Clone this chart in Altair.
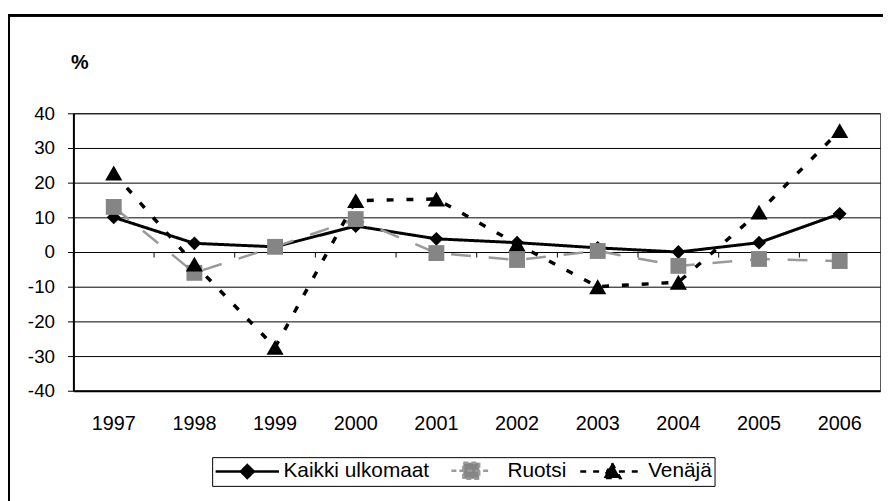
import altair as alt
import pandas as pd

years = ['1997', '1998', '1999', '2000', '2001', '2002', '2003', '2004', '2005', '2006']
series_names = ['Kaikki ulkomaat', 'Ruotsi', 'Venäjä']
kaikki = [10, 2.5, 1.5, 7.5, 3.8, 2.7, 1.2, 0, 2.7, 11]
ruotsi = [13, -6, 1.5, 9.5, -0.3, -2.3, 0.3, -4, -2, -2.6]
venaja = [22.8, -3.5, -27.5, 14.8, 15.3, 2.3, -10, -8.7, 11.5, 35]
y_ticks = [-40, -30, -20, -10, 0, 10, 20, 30, 40]

rows = []
for name, vals in zip(series_names, [kaikki, ruotsi, venaja]):
    for yr, v in zip(years, vals):
        rows.append({'year': yr, 'value': v, 'series': name})
df = pd.DataFrame(rows)
ydf = pd.DataFrame({'year': years})

FONT = 'Liberation Sans'

x_scale = alt.Scale(type='band', paddingInner=0, paddingOuter=0)
x_axis = alt.Axis(title=None, labelAngle=0, ticks=False, grid=False,
                  domainColor='black', domainWidth=2,
                  labelFont=FONT, labelFontSize=20, labelColor='black',
                  labelPadding=23)
y_scale = alt.Scale(domain=[-40, 40], nice=False)
y_axis = alt.Axis(values=y_ticks, title='%', titleAngle=0,
                  titleX=6, titleY=-51, titleAlign='center',
                  titleBaseline='middle', titleFont=FONT,
                  titleFontSize=20, titleFontWeight='bold',
                  titleColor='black', labelOverlap=False,
                  labelExpr="datum.value + ''",
                  grid=True, gridColor='black', gridWidth=1,
                  domainColor='black', domainWidth=2,
                  tickColor='black', tickSize=6, tickWidth=1,
                  labelFont=FONT, labelFontSize=19,
                  labelColor='black', labelPadding=13)

x_enc = alt.X('year:O', sort=years, scale=x_scale, axis=x_axis)
y_enc = alt.Y('value:Q', scale=y_scale, axis=y_axis)

base = alt.Chart(df)

styles = {
    'Kaikki ulkomaat': dict(color='black', width=3, dash=[1, 0], shape='diamond', size=196, fill='black'),
    'Ruotsi': dict(color='#9a9a9a', width=2.5, dash=[20, 18], shape='square', size=256, fill='#858585'),
    'Venäjä': dict(color='black', width=3.5, dash=[7, 13], shape='triangle-up', size=300, fill='black'),
}

layers = []
for name in series_names:
    s = styles[name]
    sub = base.transform_filter(alt.datum.series == name)
    line = sub.mark_line(color=s['color'], strokeWidth=s['width'],
                         strokeDash=s['dash']).encode(x=x_enc, y=y_enc)
    pts = sub.mark_point(shape=s['shape'], size=s['size'], filled=True,
                         fill=s['fill'], opacity=1, strokeWidth=0).encode(x=x_enc, y=y_enc)
    layers += [line, pts]

# category boundary ticks on the zero line
zero_ticks = alt.Chart(ydf).mark_rule(color='black', strokeWidth=1).encode(
    x=alt.X('year:O', sort=years, bandPosition=0, scale=x_scale, axis=x_axis),
    y=alt.Y(datum=0, scale=y_scale, axis=y_axis),
    y2=alt.datum(-1.6),
)
layers.insert(0, zero_ticks)

# legend carrier (invisible marks, custom line+marker symbols)
paths = [
    'M-1,0H5.4M2.2,-0.65L2.85,0L2.2,0.65L1.55,0Z',
    'M0.2,0H4.2M1.4,-0.8H3V0.8H1.4Z',
    'M-1,0H5.4M2.2,-0.85L3.05,0.65L1.35,0.65Z',
]
legend_layer = base.mark_point(filled=True, opacity=0).encode(
    x=x_enc, y=y_enc,
    shape=alt.Shape('series:N', sort=series_names,
                    scale=alt.Scale(domain=series_names, range=paths),
                    legend=alt.Legend(title=None, orient='none', legendX=140, legendY=347,
                                      direction='horizontal', columns=3,
                                      symbolSize=400, symbolOpacity=1,
                                      symbolStrokeWidth=2.5,
                                      labelFont=FONT, labelFontSize=21,
                                      labelColor='black', labelOffset=47,
                                      labelLimit=400,
                                      columnPadding=8, padding=2,
                                      strokeColor='black', cornerRadius=0,
                                      fillColor='white')),
    fill=alt.Fill('series:N', sort=series_names,
                  scale=alt.Scale(domain=series_names, range=['black', '#858585', 'black'])),
    stroke=alt.Stroke('series:N', sort=series_names,
                      scale=alt.Scale(domain=series_names, range=['black', '#9a9a9a', 'black'])),
    strokeDash=alt.StrokeDash('series:N', sort=series_names,
                              scale=alt.Scale(domain=series_names,
                                              range=[[1, 0], [5, 3], [6, 7]])),
)
layers.append(legend_layer)

# outer frame
frame_left = alt.Chart(ydf).mark_rule(color='black', strokeWidth=2).encode(
    x=alt.value(-65), y=alt.value(-99), y2=alt.value(420))
frame_top = alt.Chart(ydf).mark_rule(color='black', strokeWidth=2).encode(
    x=alt.value(-66), x2=alt.value(830), y=alt.value(-99))
layers += [frame_left, frame_top]

chart = alt.layer(*layers).properties(
    width=814, height=280,
    padding={'left': 66, 'top': 104, 'right': 3, 'bottom': 109},
    autosize=alt.AutoSizeParams(type='none'),
    background='white',
).configure_view(stroke='#555555', strokeWidth=1)

chart.save('out.html', embed_options={'renderer': 'svg', 'actions': False})
